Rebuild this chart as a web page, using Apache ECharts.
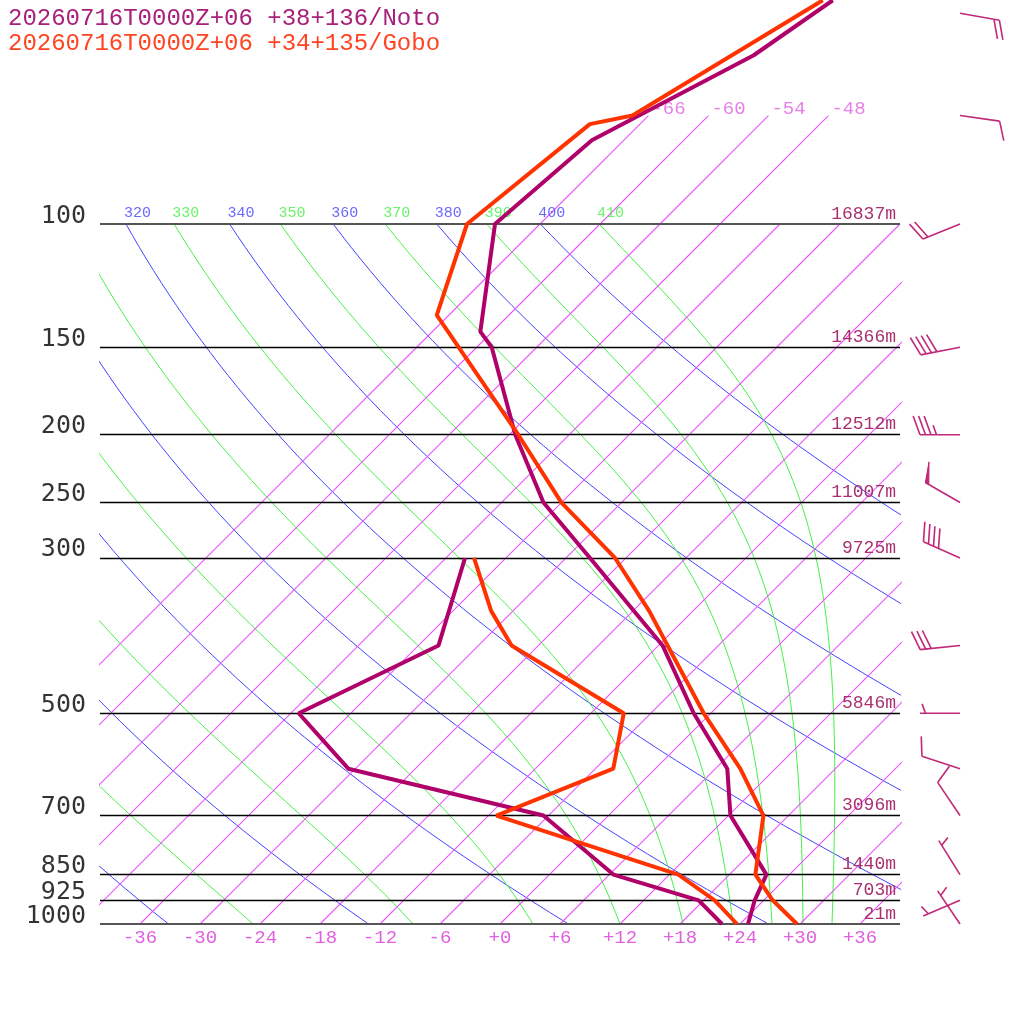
<!DOCTYPE html>
<html>
<head>
<meta charset="utf-8">
<script src="https://cdn.jsdelivr.net/npm/echarts@6/dist/echarts.min.js"></script>
<style>
  html, body { margin: 0; padding: 0; background: #fff; }
  #main { width: 1024px; height: 1024px; }
</style>
</head>
<body>
<div id="main"></div>
<script>
// skew-T: x value = T + SKEW * log10(1000 / p)
var SKEW = 70;
var P_TOP = 1000 / Math.pow(10, 924 / 700);

// pressure levels with height labels
var levelP = [100, 150, 200, 250, 300, 500, 700, 850, 925, 1000];
var levelHeights = ["16837m", "14366m", "12512m", "11007m", "9725m", "5846m", "3096m", "1440m", "703m", "21m"];

// isotherms
var isoTemps = [-66, -60, -54, -48, -42, -36, -30, -24, -18, -12, -6, 0, 6, 12, 18, 24, 30, 36];
var isoTopTemps = [-66, -60, -54, -48];
var bottomTicks = [-36, -30, -24, -18, -12, -6, 0, 6, 12, 18, 24, 30, 36];

// dry adiabats (theta, K) and moist adiabats (theta-e label, start T at 1000 hPa)
var dryThetas = [240, 260, 280, 300, 320, 340, 360, 380, 400];
var moistThetaE = [250, 270, 290, 310, 330, 350, 370, 390, 410];
var moistBaseT = [-24.7, -8.7, 3.3, 12.0, 18.3, 23.3, 27.2, 30.3, 33.2];

// Noto sounding
var notoTempP = [1000, 925, 850, 700, 600, 500, 400, 300, 250, 200, 150, 142.5, 100, 75.9, 57.4, 47.9];
var notoTemp = [24.8, 23.1, 21.7, 12.2, 7.2, -1.7, -11.6, -27.6, -37.8, -47.4, -58.5, -61.2, -70.5, -69.2, -61.5, -59.1];
var notoDewP = [1000, 925, 850, 700, 600, 500, 400, 300];
var notoDew = [22.2, 17.5, 6.4, -6.5, -30.7, -41.2, -34.0, -40.1];

// Gobo sounding
var goboTempP = [1000, 925, 850, 700, 600, 500, 400, 357, 300, 250, 200, 135, 100, 72, 70, 47.9];
var goboTemp = [29.7, 24.9, 20.6, 15.5, 8.5, -0.7, -11.1, -16.4, -25.1, -36.0, -47.1, -67.2, -73.3, -71.0, -67.6, -60.1];
var goboDewP = [1000, 925, 850, 700, 600, 500, 400, 357, 300];
var goboDew = [23.7, 19.1, 12.9, -11.2, -4.2, -8.7, -26.7, -32.2, -39.2];

// winds (direction deg, speed kt)
var windP = [50, 70, 100, 150, 200, 250, 300, 400, 500, 600, 700, 850, 925, 1000];
var windDir = [100, 98, 248, 259, 270, 300, 294, 264, 270, 288, 326, 328, 247, 326];
var windSpd = [20, 10, 20, 40, 35, 50, 40, 30, 5, 10, 10, 5, 5, 5];
var BARB_X = 46;

var C_ISO = "rgb(238, 85, 255)";
var C_DRY = "#4444ff";
var C_MOIST = "#44f044";
var C_NOTO = "#b0006a";
var C_GOBO = "#ff3300";
var C_HGT = "#a8306f";
var C_BARB = "#c02878";
var MONO = "Liberation Mono";

function skewX(t, p) {
  return t + SKEW * Math.log10(1000 / p);
}

function profile(ps, ts) {
  return ps.map(function (p, i) { return [skewX(ts[i], p), p]; });
}

// log spaced pressures 1000 -> 100
var adiabatP = [];
for (var i = 0; i <= 60; i++) {
  adiabatP.push(1000 * Math.pow(10, -i / 60));
}

function dryLine(theta) {
  return adiabatP.map(function (p) {
    return [skewX(theta * Math.pow(p / 1000, 0.2857) - 273.15, p), p];
  });
}

function moistRate(T, p) {
  var Rd = 287.04, cp = 1005.7, Lv = 2.501e6, eps = 0.622;
  var es = 6.112 * Math.exp(17.67 * (T - 273.15) / (T - 29.65));
  var rs = eps * es / (p - es);
  return (Rd * T + Lv * rs) / (cp + Lv * Lv * rs * eps / (Rd * T * T));
}

function moistLine(t0) {
  var pts = [];
  var T = t0 + 273.15;
  var n = 120;
  var lnp = Math.log(1000);
  var h = (Math.log(100) - lnp) / n;
  for (var k = 0; k <= n; k++) {
    var p = Math.exp(lnp);
    pts.push([skewX(T - 273.15, p), p]);
    var k1 = moistRate(T, p);
    var k2 = moistRate(T + h * k1 / 2, Math.exp(lnp + h / 2));
    var k3 = moistRate(T + h * k2 / 2, Math.exp(lnp + h / 2));
    var k4 = moistRate(T + h * k3, Math.exp(lnp + h));
    T += h * (k1 + 2 * k2 + 2 * k3 + k4) / 6;
    lnp += h;
  }
  return pts;
}

function thinLine(data, color, z) {
  return {
    type: "line", silent: true, symbol: "none", z: z,
    color: color,
    lineStyle: { color: color, width: 1 },
    data: data
  };
}

var series = [];

// isotherms
isoTemps.forEach(function (t) {
  var pt = isoTopTemps.indexOf(t) >= 0 ? 70 : 100;
  var ps = [1000, 850, 700, 500, 400, 300, 250, 200, 150, 100];
  if (pt < 100) ps.push(pt);
  series.push({
    type: "line", silent: true, symbol: "none", z: 2,
    color: C_ISO,
    lineStyle: { color: C_ISO, width: 1.1 },
    data: ps.map(function (p) { return [skewX(t, p), p]; })
  });
});

var topLabels = [];
dryThetas.forEach(function (th) {
  var d = dryLine(th);
  series.push(thinLine(d, C_DRY, 1));
  var last = d[d.length - 1];
  if (last[0] > -40) topLabels.push({ value: last, name: String(th), color: C_DRY });
});

moistBaseT.forEach(function (t0, i) {
  var d = moistLine(t0);
  series.push(thinLine(d, C_MOIST, 1));
  var last = d[d.length - 1];
  if (last[0] > -40) topLabels.push({ value: last, name: String(moistThetaE[i]), color: C_MOIST });
});

// adiabat labels at 100 hPa
series.push({
  type: "scatter", silent: true, symbolSize: 0, z: 3,
  data: topLabels.map(function (l) {
    return {
      value: l.value, name: l.name,
      label: { color: l.color }
    };
  }),
  label: {
    show: true, formatter: "{b}", position: [-2, -3],
    align: "left", verticalAlign: "bottom",
    fontFamily: MONO, fontSize: 15, lineHeight: 15
  }
});

// isotherm labels at the top
series.push({
  type: "scatter", silent: true, symbolSize: 0, z: 3,
  data: isoTopTemps.map(function (t) {
    return { value: [skewX(t, 70), 70], name: String(t) };
  }),
  label: {
    show: true, formatter: "{b}", position: [3, 3],
    align: "left", verticalAlign: "bottom",
    color: "#e060e0", fontFamily: MONO, fontSize: 19, lineHeight: 19
  }
});

// pressure level lines with heights
series.push({
  type: "line", silent: true, symbol: "none", z: 2,
  lineStyle: { opacity: 0 },
  data: [[-40, 1000]],
  markLine: {
    silent: true, symbol: ["none", "none"], animation: false,
    lineStyle: { color: "#000", width: 1.4, type: "solid" },
    label: {
      show: true, position: "insideEndTop", distance: [4, 1],
      color: C_HGT, fontFamily: MONO, fontSize: 18
    },
    data: levelP.map(function (p, i) {
      var edge = (p === 100 || p === 1000);
      return {
        yAxis: p,
        lineStyle: edge ? { color: "#555", width: 2 } : undefined,
        label: { formatter: levelHeights[i] }
      };
    })
  }
});

// pressure labels on the left
series.push({
  type: "scatter", silent: true, symbolSize: 0, z: 3,
  data: levelP.map(function (p) { return { value: [-40, p], name: String(p) }; }),
  label: {
    show: true, formatter: "{b}", position: "left", distance: 14,
    verticalAlign: "bottom", lineHeight: 16,
    color: "#000", fontFamily: "DejaVu Sans Mono", fontSize: 25
  }
});

// soundings
[
  [notoDewP, notoDew, C_NOTO],
  [notoTempP, notoTemp, C_NOTO],
  [goboDewP, goboDew, C_GOBO],
  [goboTempP, goboTemp, C_GOBO]
].forEach(function (s, i) {
  series.push({
    type: "line", silent: true, symbol: "none", z: 5 + i,
    color: s[2],
    lineStyle: { color: s[2], width: 4 },
    data: profile(s[0], s[1])
  });
});

// wind barbs
function barbShapes(sx, sy, dirDeg, speed) {
  var a = dirDeg * Math.PI / 180;
  var dx = Math.sin(a), dy = -Math.cos(a);
  var L = 40;
  var ex = sx + L * dx, ey = sy + L * dy;
  var r = 70 * Math.PI / 180;
  var bx = dx * Math.cos(r) - dy * Math.sin(r);
  var by = dx * Math.sin(r) + dy * Math.cos(r);
  var style = { stroke: C_BARB, lineWidth: 1.6, fill: null };
  var out = [{ type: "line", shape: { x1: sx, y1: sy, x2: ex, y2: ey }, style: style }];
  var n50 = Math.floor(speed / 50);
  var n10 = Math.floor((speed % 50) / 10);
  var n5 = (speed % 10) >= 5 ? 1 : 0;
  var pos = 0;
  for (var k = 0; k < n50; k++) {
    var px = ex - dx * pos, py = ey - dy * pos;
    out.push({
      type: "polygon",
      shape: { points: [[px, py], [px + bx * 21, py + by * 21], [px - dx * 4, py - dy * 4]] },
      style: { fill: C_BARB, stroke: C_BARB, lineWidth: 1 }
    });
    pos += 7;
  }
  for (var m = 0; m < n10; m++) {
    var qx = ex - dx * pos, qy = ey - dy * pos;
    out.push({ type: "line", shape: { x1: qx, y1: qy, x2: qx + bx * 20, y2: qy + by * 20 }, style: style });
    pos += 5.5;
  }
  if (n5) {
    if (pos === 0) pos = 5.5;
    var hx = ex - dx * pos, hy = ey - dy * pos;
    out.push({ type: "line", shape: { x1: hx, y1: hy, x2: hx + bx * 10, y2: hy + by * 10 }, style: style });
  }
  return out;
}

series.push({
  type: "custom", silent: true, z: 6, clip: false,
  encode: { x: 0, y: 1 },
  data: windP.map(function (p, i) { return [BARB_X, p, windDir[i], windSpd[i]]; }),
  renderItem: function (params, api) {
    var pt = api.coord([api.value(0), api.value(1)]);
    return { type: "group", children: barbShapes(pt[0], pt[1], api.value(2), api.value(3)) };
  }
});

var myChart = echarts.init(document.getElementById("main"));

var option = {
  animation: false,
  backgroundColor: "#fff",
  title: [
    {
      text: "20260716T0000Z+06 +38+136/Noto", left: 8, top: 7, padding: 0,
      textStyle: { color: "#a8207a", fontFamily: MONO, fontSize: 24, fontWeight: "normal", lineHeight: 24 }
    },
    {
      text: "20260716T0000Z+06 +34+135/Gobo", left: 8, top: 32, padding: 0,
      textStyle: { color: "#ff4422", fontFamily: MONO, fontSize: 24, fontWeight: "normal", lineHeight: 24 }
    }
  ],
  grid: {
    left: 100, right: 124, top: 0, bottom: 100,
    containLabel: false, outerBoundsMode: "none"
  },
  xAxis: {
    type: "value", min: -40, max: 40,
    axisLine: { show: false },
    axisTick: { show: false },
    splitLine: { show: false },
    axisLabel: {
      customValues: bottomTicks,
      margin: 4, lineHeight: 19,
      color: "#e060e0", fontFamily: MONO, fontSize: 19,
      formatter: function (v) { return (v >= 0 ? "+" : "") + v; }
    }
  },
  yAxis: {
    type: "log", logBase: 10, min: P_TOP, max: 1000, inverse: true,
    axisLine: { show: false },
    axisTick: { show: false },
    splitLine: { show: false },
    axisLabel: { show: false }
  },
  series: series
};

myChart.setOption(option);
</script>
</body>
</html>
